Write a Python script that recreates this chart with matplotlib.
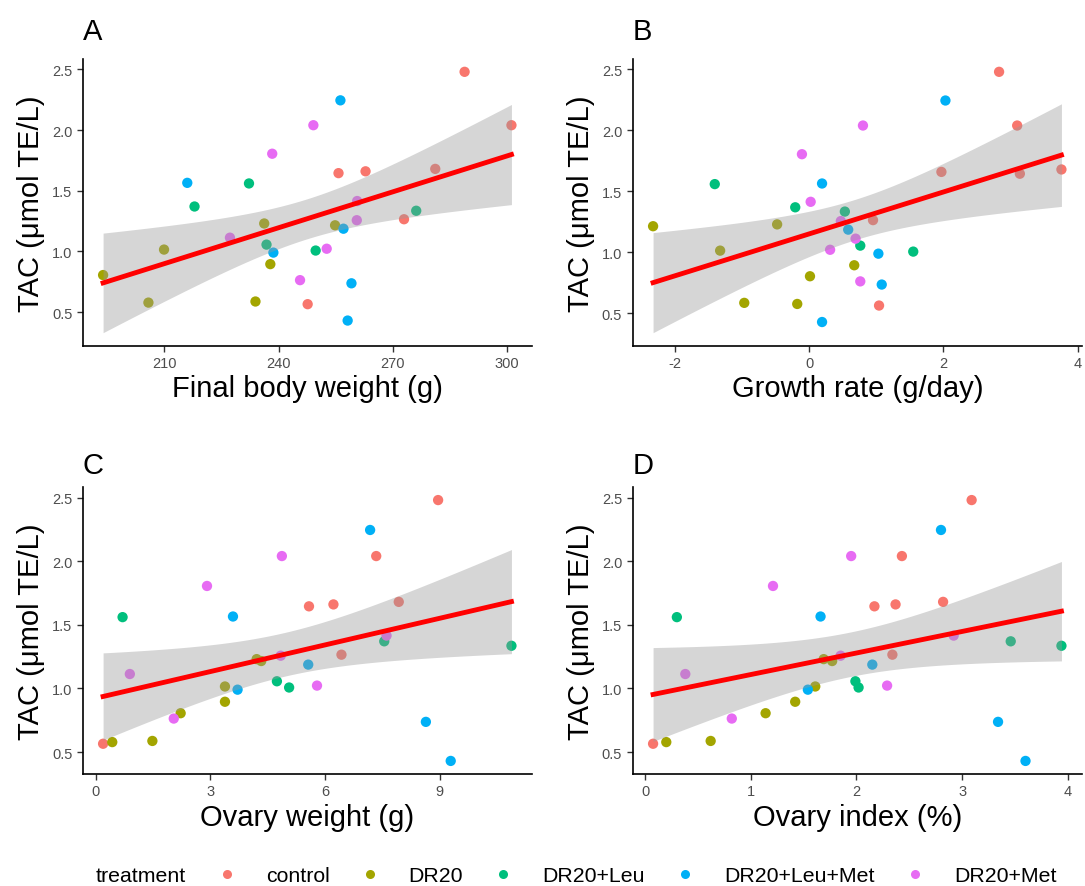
import numpy as np
import matplotlib
matplotlib.use('Agg')
from matplotlib import pyplot as plt

plt.rcParams['font.family'] = ['Liberation Sans', 'DejaVu Sans']
plt.rcParams['axes.unicode_minus'] = False

groups = ['control', 'DR20', 'DR20+Leu', 'DR20+Leu+Met', 'DR20+Met']
colors = ['#F8766D', '#A3A500', '#00BF7D', '#00B0F6', '#E76BF3']

# TAC (umol TE/L) per animal, grouped by treatment
tac_control = [2.48, 2.04, 1.68, 1.66, 1.645, 1.265, 0.565]
tac_dr20 = [1.23, 1.215, 1.015, 0.895, 0.805, 0.587, 0.578]
tac_leu = [1.56, 1.37, 1.335, 1.056, 1.007]
tac_leumet = [2.245, 1.565, 1.187, 0.99, 0.737, 0.43]
tac_met = [2.04, 1.805, 1.415, 1.257, 1.113, 1.022, 0.763]

# final body weight (g)
bw_control = [288.8, 301.1, 281.1, 262.8, 255.7, 272.9, 247.6]
bw_dr20 = [236.2, 254.8, 209.9, 237.8, 193.9, 233.9, 205.8]
bw_leu = [232.2, 217.9, 276.1, 236.8, 249.7]
bw_leumet = [256.2, 216.0, 257.0, 238.6, 259.1, 258.1]
bw_met = [249.1, 238.3, 260.6, 260.5, 227.2, 252.6, 245.6]

# growth rate (g/day)
gr_control = [2.83, 3.10, 3.76, 1.97, 3.14, 0.95, 1.04]
gr_dr20 = [-0.48, -2.33, -1.33, 0.67, 0.01, -0.97, -0.18]
gr_leu = [-1.41, -0.21, 0.53, 0.76, 1.55]
gr_leumet = [2.03, 0.19, 0.58, 1.03, 1.08, 0.19]
gr_met = [0.80, -0.11, 0.02, 0.47, 0.69, 0.31, 0.76]

# ovary weight (g)
ow_control = [8.96, 7.34, 7.93, 6.22, 5.58, 6.43, 0.19]
ow_dr20 = [4.21, 4.33, 3.38, 3.38, 2.22, 1.48, 0.43]
ow_leu = [0.70, 7.55, 10.88, 4.74, 5.06]
ow_leumet = [7.18, 3.59, 5.56, 3.71, 8.64, 9.29]
ow_met = [4.87, 2.91, 7.61, 4.84, 0.89, 5.79, 2.04]

# ovary index (%)
oi_control = [3.09, 2.43, 2.82, 2.37, 2.17, 2.34, 0.075]
oi_dr20 = [1.69, 1.77, 1.61, 1.42, 1.14, 0.62, 0.20]
oi_leu = [0.30, 3.46, 3.94, 1.99, 2.02]
oi_leumet = [2.80, 1.66, 2.15, 1.54, 3.34, 3.60]
oi_met = [1.95, 1.21, 2.92, 1.85, 0.38, 2.29, 0.82]

tac = [tac_control, tac_dr20, tac_leu, tac_leumet, tac_met]
panels = [
    ('A', 'Final body weight (g)', [bw_control, bw_dr20, bw_leu, bw_leumet, bw_met], [210, 240, 270, 300]),
    ('B', 'Growth rate (g/day)', [gr_control, gr_dr20, gr_leu, gr_leumet, gr_met], [-2, 0, 2, 4]),
    ('C', 'Ovary weight (g)', [ow_control, ow_dr20, ow_leu, ow_leumet, ow_met], [0, 3, 6, 9]),
    ('D', 'Ovary index (%)', [oi_control, oi_dr20, oi_leu, oi_leumet, oi_met], [0, 1, 2, 3, 4]),
]
y_ticks = [0.5, 1.0, 1.5, 2.0, 2.5]

fig = plt.figure(figsize=(10.85, 8.87), dpi=100)
boxes = [(0.0762, 0.6091), (0.5831, 0.6091), (0.0762, 0.1263), (0.5831, 0.1263)]
letter_pos = [(0.076, 0.964), (0.583, 0.964), (0.076, 0.475), (0.583, 0.475)]

for i, (letter, xlabel, xs, xt) in enumerate(panels):
    ax = fig.add_axes([boxes[i][0], boxes[i][1], 0.414, 0.3235])
    for g in range(len(groups)):
        ax.scatter(xs[g], tac[g], s=55, color=colors[g], edgecolors='none', zorder=2)

    # linear fit with 95% confidence band
    x_all = np.concatenate([np.array(v, dtype=float) for v in xs])
    y_all = np.concatenate([np.array(v, dtype=float) for v in tac])
    n = len(x_all)
    slope, intercept = np.polyfit(x_all, y_all, 1)
    resid = y_all - (slope * x_all + intercept)
    s = np.sqrt(np.sum(resid ** 2) / (n - 2))
    sxx = np.sum((x_all - x_all.mean()) ** 2)
    xx = np.linspace(x_all.min(), x_all.max(), 80)
    yy = slope * xx + intercept
    se = s * np.sqrt(1.0 / n + (xx - x_all.mean()) ** 2 / sxx)
    ax.fill_between(xx, yy - 2.042 * se, yy + 2.042 * se, color='#999999', alpha=0.4,
                    linewidth=0, zorder=3)
    ax.plot(xx, yy, color='red', lw=3.5, zorder=4)

    ax.set_xticks(xt)
    ax.set_yticks(y_ticks)
    ax.set_yticklabels(['{:.1f}'.format(v) for v in y_ticks])
    ax.set_xlabel(xlabel, fontsize=21, labelpad=3)
    ax.set_ylabel('TAC (μmol TE/L)', fontsize=21, labelpad=5)
    ax.tick_params(labelsize=10.5, colors='#4D4D4D', length=4, width=1, direction='out')
    ax.tick_params(axis='both', color='#333333')
    for side in ['top', 'right']:
        ax.spines[side].set_visible(False)
    for side in ['left', 'bottom']:
        ax.spines[side].set_linewidth(1.2)
        ax.spines[side].set_color('black')
    fig.text(letter_pos[i][0], letter_pos[i][1], letter, fontsize=21, va='center', ha='left')

# legend along the bottom
handles = [plt.Line2D([], [], marker='o', linestyle='none', markersize=6.5,
                      markerfacecolor=c, markeredgecolor='none') for c in colors]
fig.text(0.0885, 0.0116, 'treatment', fontsize=15.3, va='center', ha='left')
fig.legend(handles, groups, loc='center left', bbox_to_anchor=(0.199, 0.0116), ncol=5,
           frameon=False, fontsize=15.3, handlelength=1.0, handletextpad=1.34,
           columnspacing=1.39, borderpad=0, borderaxespad=0)

fig.savefig('out.png', dpi=100)
